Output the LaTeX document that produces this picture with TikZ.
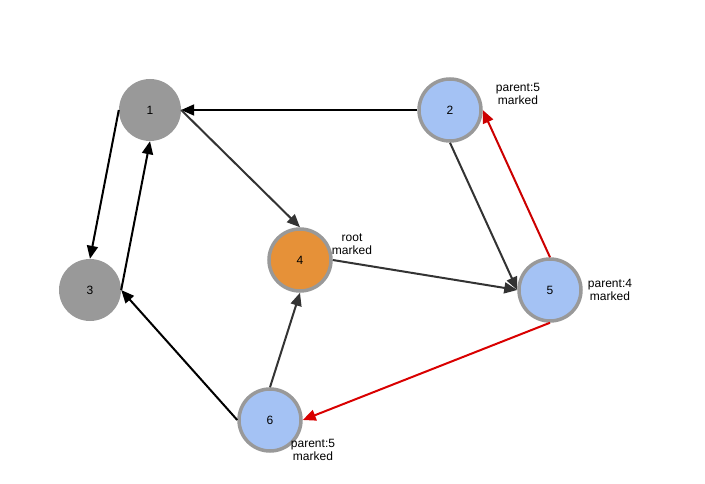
\documentclass[tikz,border=0pt]{standalone}
\usepackage{fontspec}
\setmainfont{Liberation Sans}
\usetikzlibrary{arrows.meta}
\definecolor{grayfill}{HTML}{999999}
\definecolor{bluefill}{HTML}{A4C2F4}
\definecolor{orangefill}{HTML}{E69138}
\definecolor{darkedge}{HTML}{333333}
\definecolor{rededge}{HTML}{CC0000}
\begin{document}
\begin{tikzpicture}[x=1pt,y=-1pt,
  vnode/.style={circle, minimum size=62pt, inner sep=0pt, font=\fontsize{12}{14}\selectfont},
  plain/.style={vnode, fill=grayfill},
  marked/.style={vnode, draw=grayfill, line width=3.5pt},
  lbl/.style={align=center, font=\fontsize{12}{13}\selectfont, inner sep=0pt},
  edge/.style={line width=2pt, -{Triangle[length=13pt,width=11pt]}},
  >=Triangle]
\useasboundingbox (0,0) rectangle (705,484);
\node[plain] (n1) at (150,110) {1};
\node[marked, fill=bluefill] (n2) at (450,110) {2};
\node[plain] (n3) at (90,290) {3};
\node[marked, fill=orangefill] (n4) at (300,260) {4};
\node[marked, fill=bluefill] (n5) at (550,290) {5};
\node[marked, fill=bluefill] (n6) at (270,420) {6};
\node[lbl] (l2) at (518,94) {parent:5\\marked};
\node[lbl] (l4) at (352,244) {root\\marked};
\node[lbl] (l5) at (610,290) {parent:4\\marked};
\node[lbl] (l6) at (313,450) {parent:5\\marked};
\draw[edge, black] (n2.west) -- (n1.east);
\draw[edge, black] (n1.west) -- (n3.north);
\draw[edge, black] (n3.east) -- (n1.south);
\draw[edge, darkedge] (n1.east) -- (n4.north);
\draw[edge, darkedge] (n4.east) -- (n5.west);
\draw[edge, darkedge] (n2.south) -- (n5.west);
\draw[edge, rededge] (n5.north) -- (n2.east);
\draw[edge, red!85!black] (n5.south) -- (n6.east);
\draw[edge, darkedge] (n6.north) -- (n4.south);
\draw[edge, black] (n6.west) -- (n3.east);
\end{tikzpicture}
\end{document}
